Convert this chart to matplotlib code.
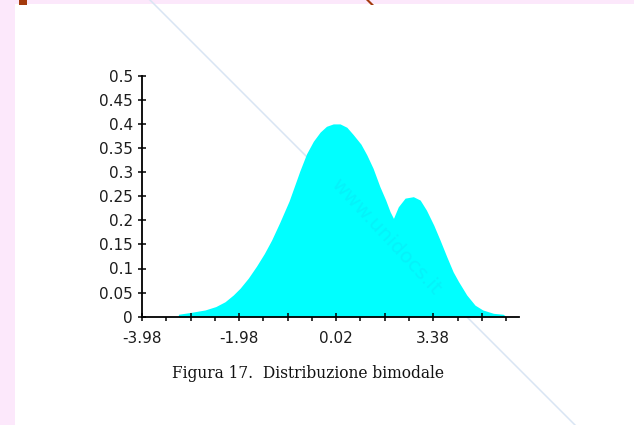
import matplotlib
matplotlib.use("Agg")
import matplotlib.pyplot as plt
from matplotlib.patches import Rectangle, Polygon
from matplotlib.lines import Line2D

# ---- data ----
x_vals = [-3.23, -2.97, -2.68, -2.46, -2.27, -2.10, -1.96, -1.79, -1.62, -1.46,
          -1.31, -1.14, -0.95, -0.79, -0.73, -0.59, -0.45, -0.31, -0.18, -0.04,
          0.10, 0.24, 0.37, 0.53, 0.65, 0.78, 0.92, 1.04, 1.13, 1.20,
          1.30, 1.44, 1.61, 1.75, 1.88, 2.03, 2.16, 2.30, 2.43, 2.54,
          2.71, 2.88, 3.04, 3.26, 3.46, 3.50]
density = [0.005, 0.009, 0.014, 0.021, 0.031, 0.045, 0.059, 0.080, 0.105, 0.131,
           0.159, 0.196, 0.240, 0.285, 0.302, 0.338, 0.364, 0.383, 0.395, 0.400,
           0.400, 0.393, 0.378, 0.358, 0.336, 0.308, 0.270, 0.242, 0.218, 0.204,
           0.228, 0.246, 0.249, 0.242, 0.221, 0.190, 0.159, 0.124, 0.093, 0.073,
           0.045, 0.024, 0.014, 0.007, 0.005, 0.002]

y_ticks = [0, 0.05, 0.1, 0.15, 0.2, 0.25, 0.3, 0.35, 0.4, 0.45, 0.5]
y_labels = ["0", "0.05", "0.1", "0.15", "0.2", "0.25", "0.3", "0.35", "0.4", "0.45", "0.5"]
x_major = [-3.98, -2.98, -1.98, -0.98, 0.02, 1.02, 2.02, 3.02]
x_labels = ["-3.98", "", "-1.98", "", "0.02", "", "3.38", ""]
x_minor = [-3.48, -2.48, -1.48, -0.48, 0.52, 1.52, 2.52, 3.52]
caption = "Figura 17.  Distribuzione bimodale"
watermark = "www.unidocs.it"

W, H = 634, 425
fig = plt.figure(figsize=(W / 100, H / 100), dpi=100)
fig.patch.set_facecolor("white")

def fx(px):
    return px / W

def fy(py):
    return 1 - py / H

# page decorations (pink border strips, cut-off title glyphs, diagonal rule)
pink = "#fce8fb"
fig.add_artist(Rectangle((0, 0), fx(15), 1, transform=fig.transFigure,
                         facecolor=pink, edgecolor="none", zorder=-3))
fig.add_artist(Rectangle((0, fy(3.5)), 1, 3.5 / H, transform=fig.transFigure,
                         facecolor=pink, edgecolor="none", zorder=-3))
fig.add_artist(Rectangle((fx(19), fy(5)), fx(8), 5 / H, transform=fig.transFigure,
                         facecolor="#a33a0c", edgecolor="none", zorder=-2))
fig.add_artist(Polygon([(fx(366), fy(0)), (fx(369), fy(0)), (fx(374), fy(5)),
                        (fx(371), fy(5))], closed=True, transform=fig.transFigure,
                       facecolor="#a33a0c", edgecolor="none", zorder=-2))
fig.add_artist(Line2D([fx(150), fx(575)], [fy(0), fy(425)], transform=fig.transFigure,
                      color="#d9e5f3", lw=1.1, zorder=-1))

ax = fig.add_axes([fx(142), fy(316.7), (518.7 - 142) / W, (316.7 - 75.7) / H])
ax.patch.set_visible(False)

ax.fill_between(x_vals, density, 0, color="#00ffff", linewidth=0)

ax.set_xlim(-3.98, 3.78)
ax.set_ylim(0, 0.5)

for s in ["top", "right"]:
    ax.spines[s].set_visible(False)
for s in ["left", "bottom"]:
    ax.spines[s].set_color("black")
    ax.spines[s].set_linewidth(1.3)
    ax.spines[s].set_zorder(3)

lab_font = dict(family="DejaVu Sans", size=11)
txt_col = "#1c1c1c"

ax.set_yticks(y_ticks)
ax.set_yticklabels(y_labels, **lab_font, color=txt_col)
ax.set_xticks(x_major)
ax.set_xticklabels(x_labels, **lab_font, color=txt_col)
ax.set_xticks(x_minor, minor=True)

ax.tick_params(axis="y", which="major", direction="inout", length=6, width=1.1,
               pad=3.5, color="black")
ax.tick_params(axis="x", which="major", direction="inout", length=6, width=1.1,
               pad=7, color="black")
ax.tick_params(axis="x", which="minor", direction="out", length=3, width=1.1,
               color="black")

# watermark
ax.text(1.05, 0.167, watermark, rotation=-47, rotation_mode="anchor",
        ha="center", va="center", family="DejaVu Sans", size=14.5,
        color="#2a9fd6", alpha=0.13, zorder=4)

fig.text(fx(308), fy(377.5), caption, ha="center", va="baseline",
         family="DejaVu Serif", size=11.2, color="#111111")

fig.savefig("out.png", dpi=100)
